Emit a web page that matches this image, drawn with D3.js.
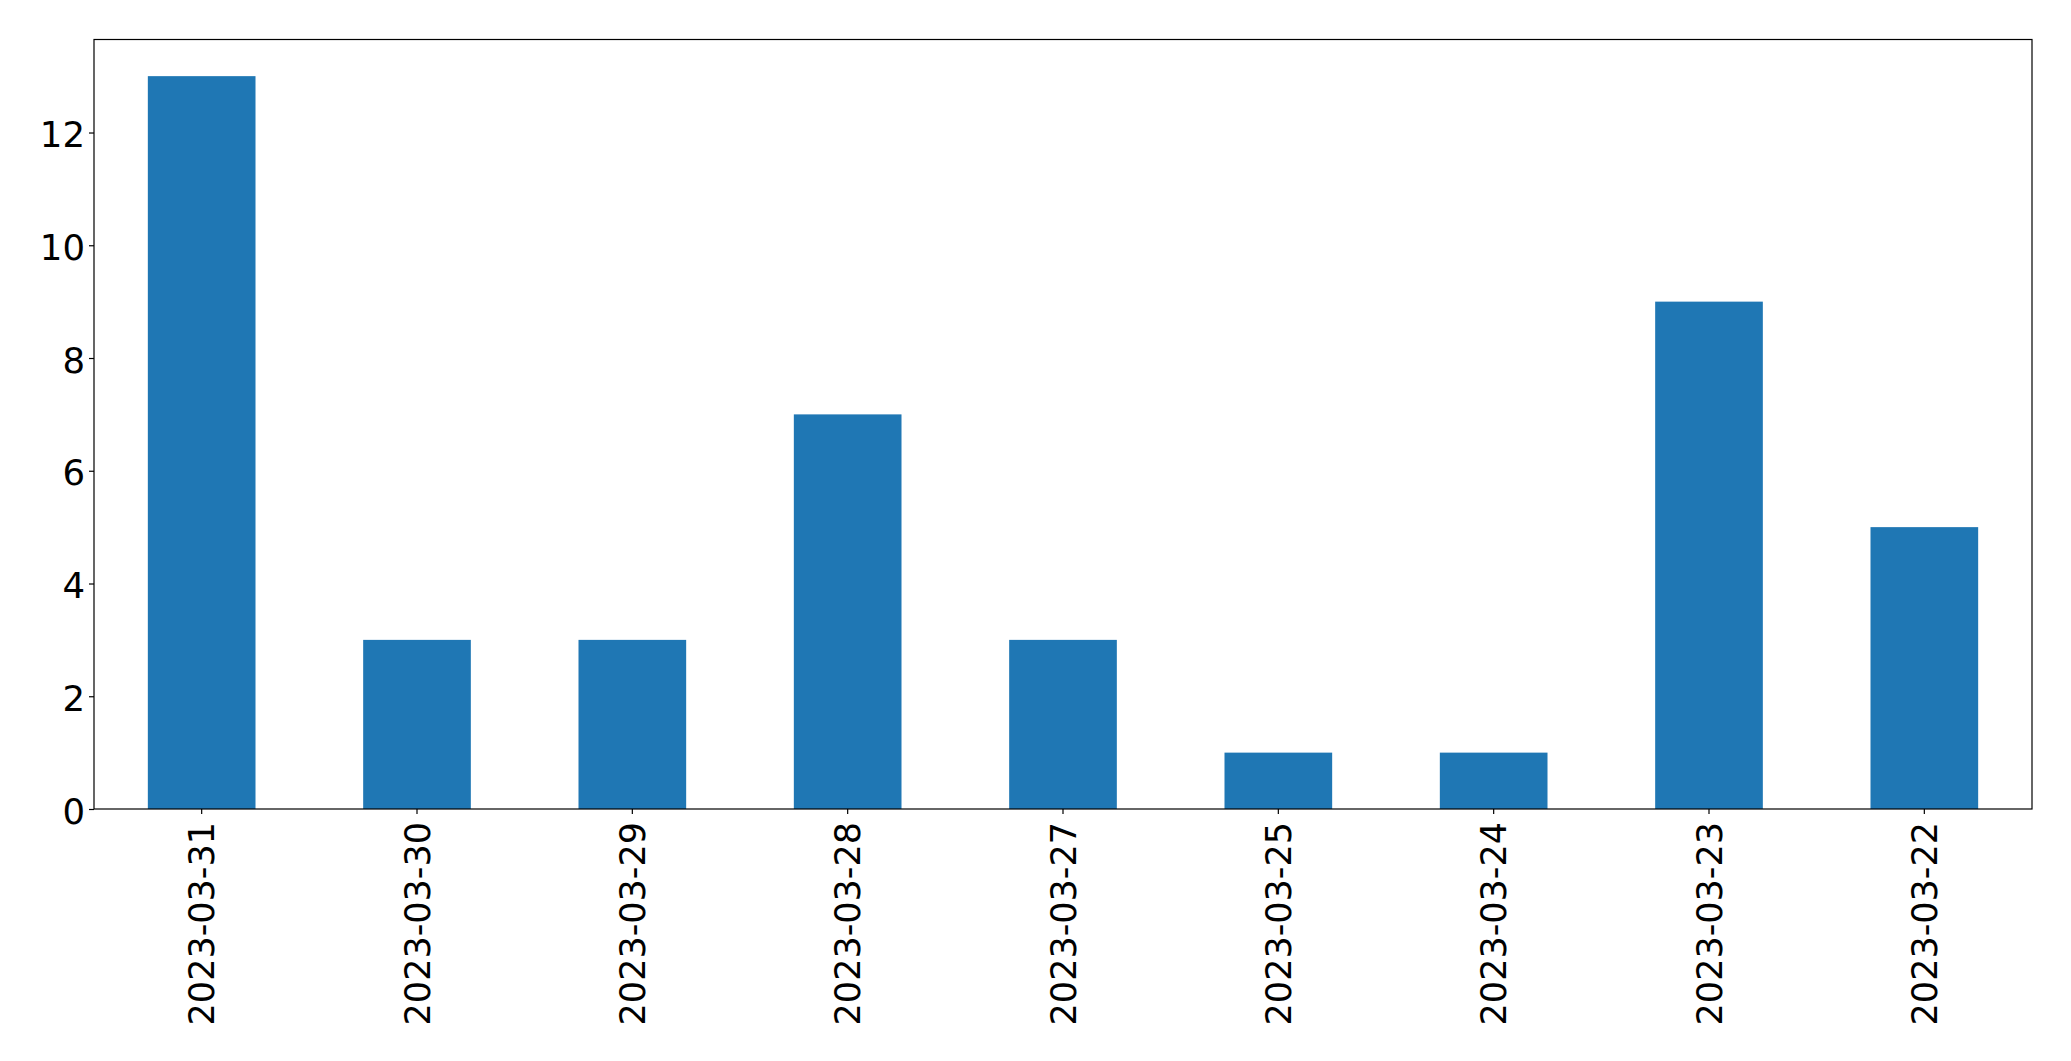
<!DOCTYPE html>
<html>
<head>
<meta charset="utf-8">
<script src="https://cdn.jsdelivr.net/npm/d3@7"></script>
<style>
  html, body { margin: 0; padding: 0; background: #fff; }
  svg { display: block; }
  text { font-family: "DejaVu Sans", sans-serif; fill: #000; }
</style>
</head>
<body>
<script>
const categories = ["2023-03-31", "2023-03-30", "2023-03-29", "2023-03-28", "2023-03-27", "2023-03-25", "2023-03-24", "2023-03-23", "2023-03-22"];
const values = [13, 3, 3, 7, 3, 1, 1, 9, 5];
const yTicks = [0, 2, 4, 6, 8, 10, 12];

(function () {
const W = 2071, H = 1061;
const pLeft = 94, pRight = 2032, pTop = 39.5, pBottom = 809;
const fontSize = 35;

const svg = d3.select("body").append("svg").attr("width", W).attr("height", H);

const x = d3.scaleBand().domain(categories).range([pLeft, pRight]).paddingInner(0.5).paddingOuter(0.25);
const yMax = d3.max(values) * 1.05;
const y = d3.scaleLinear().domain([0, yMax]).range([pBottom, pTop]);

svg.append("g").selectAll("rect").data(values).join("rect")
  .attr("x", (d, i) => x(categories[i]))
  .attr("width", x.bandwidth())
  .attr("y", d => y(d))
  .attr("height", d => y(0) - y(d))
  .attr("fill", "#1f77b4");

// Frame
svg.append("rect")
  .attr("x", pLeft).attr("y", pTop)
  .attr("width", pRight - pLeft).attr("height", pBottom - pTop)
  .attr("fill", "none").attr("stroke", "#000").attr("stroke-width", 1.2);

// Y axis
const yAxis = d3.axisLeft(y).tickValues(yTicks).tickSize(5).tickPadding(4).tickFormat(d3.format("d"));
const gy = svg.append("g").attr("transform", `translate(${pLeft},0)`).call(yAxis);
gy.select(".domain").remove();
gy.selectAll(".tick line").attr("stroke", "#000").attr("stroke-width", 1.2);
gy.selectAll(".tick text")
  .style("font-size", "35.5px")
  .style("font-family", "'DejaVu Sans', sans-serif")
  .attr("fill", "#000")
  .attr("dy", "0.4em");

// X axis
const xAxis = d3.axisBottom(x).tickSize(5).tickPadding(0);
const gx = svg.append("g").attr("transform", `translate(0,${pBottom})`).call(xAxis);
gx.select(".domain").remove();
gx.selectAll(".tick line").attr("stroke", "#000").attr("stroke-width", 1.2);
gx.selectAll(".tick text")
  .style("font-size", fontSize + "px")
  .style("font-family", "'DejaVu Sans', sans-serif")
  .attr("fill", "#000")
  .attr("text-anchor", "end")
  .attr("x", 0).attr("y", 0)
  .attr("dx", 0).attr("dy", "0.36em")
  .attr("transform", "translate(0,13) rotate(-90)");
})();
</script>
</body>
</html>
